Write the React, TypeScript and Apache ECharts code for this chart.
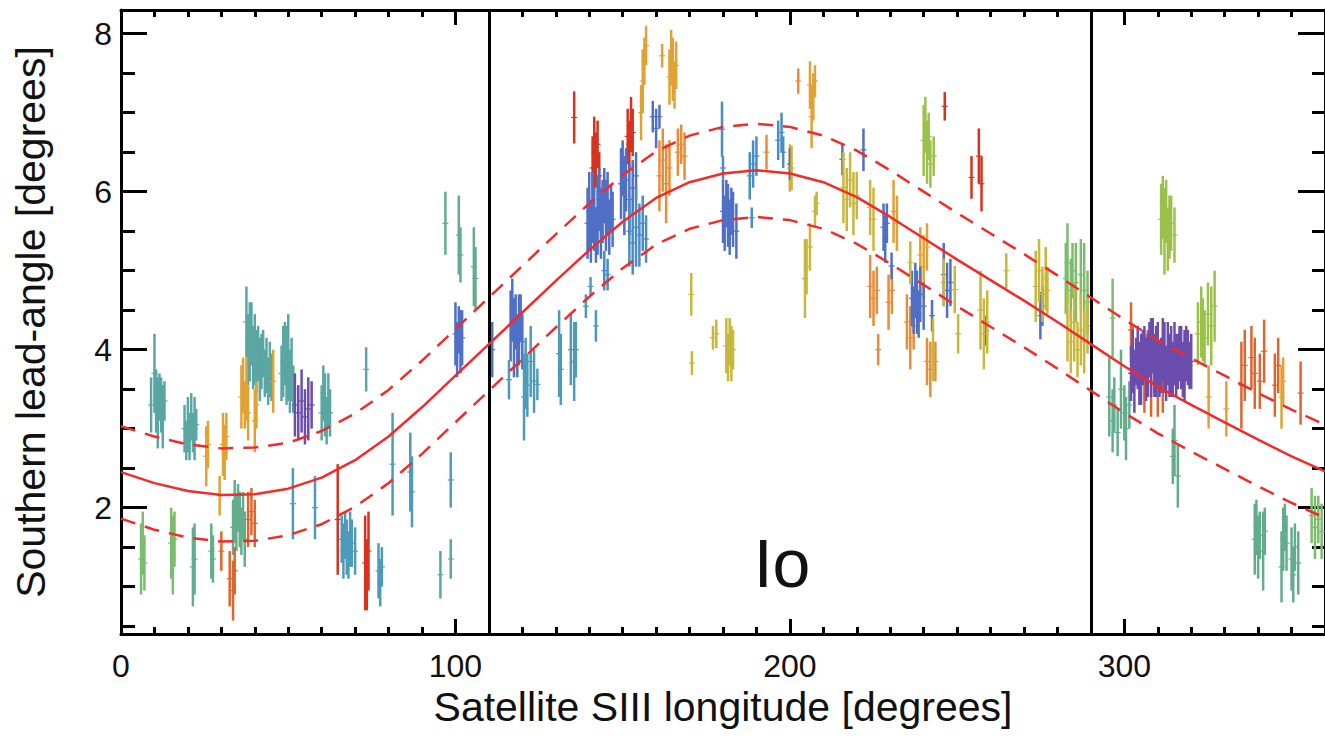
import React, { useEffect, useRef } from 'react';
import * as echarts from 'echarts';

// ---------- axis ticks ----------
const xMajorTicks = [0, 100, 200, 300];
const xMinorTicks = [10, 20, 30, 40, 50, 60, 70, 80, 90, 110, 120, 130, 140, 150, 160, 170, 180, 190, 210, 220, 230, 240, 250, 260, 270, 280, 290, 310, 320, 330, 340, 350];
const yMajorTicks = [2, 4, 6, 8];
const yMinorTicks = [0.5, 1, 1.5, 2.5, 3, 3.5, 4.5, 5, 5.5, 6.5, 7, 7.5];
const ioBoundaries = [110, 290];

// ---------- fitted lead-angle curve ----------
const fitLongitudes = [0, 10, 20, 30, 40, 50, 60, 70, 80, 90, 100, 110, 120, 130, 140, 150, 160, 170, 180, 190, 200, 210, 220, 230, 240, 250, 260, 270, 280, 290, 300, 310, 320, 330, 340, 350, 360];
const fitCentre = [2.45, 2.31, 2.21, 2.16, 2.17, 2.24, 2.38, 2.6, 2.9, 3.27, 3.67, 4.07, 4.47, 4.87, 5.26, 5.62, 5.92, 6.12, 6.23, 6.27, 6.23, 6.12, 5.93, 5.68, 5.41, 5.14, 4.88, 4.62, 4.35, 4.07, 3.79, 3.53, 3.3, 3.08, 2.86, 2.65, 2.46];
const fitUpper = [3.03, 2.9, 2.8, 2.75, 2.76, 2.82, 2.97, 3.19, 3.49, 3.86, 4.26, 4.66, 5.06, 5.46, 5.85, 6.21, 6.51, 6.71, 6.82, 6.86, 6.82, 6.71, 6.52, 6.27, 6.0, 5.73, 5.47, 5.21, 4.94, 4.66, 4.38, 4.12, 3.89, 3.67, 3.45, 3.24, 3.05];
const fitLower = [1.86, 1.72, 1.62, 1.57, 1.58, 1.65, 1.79, 2.01, 2.31, 2.68, 3.08, 3.48, 3.88, 4.28, 4.67, 5.03, 5.33, 5.53, 5.64, 5.68, 5.64, 5.53, 5.34, 5.09, 4.82, 4.55, 4.29, 4.03, 3.76, 3.48, 3.2, 2.94, 2.71, 2.49, 2.27, 2.06, 1.87];

// ---------- measurements: [longitude, lead angle, error] ----------
const teal = [
  [9, 3.3, 0.35], [10, 3.7, 0.5], [10.5, 3.35, 0.4], [11, 3.2, 0.45], [11.5, 3.4, 0.3], [12, 3.3, 0.35], [12.5, 3.15, 0.4], [13, 3.35, 0.25],
  [19, 3.0, 0.3], [19.5, 2.85, 0.25], [20, 3.05, 0.35], [20.5, 2.9, 0.3], [21, 3.15, 0.3], [21.5, 2.95, 0.25], [22, 3.0, 0.4], [22.5, 3.05, 0.2],
  [37.5, 4.35, 0.45], [38, 4.0, 0.45], [38.5, 4.1, 0.5], [39, 4.2, 0.4], [39.5, 3.9, 0.4], [40, 4.0, 0.45], [40.5, 3.85, 0.4], [41, 3.95, 0.35],
  [41.5, 3.75, 0.4], [42, 3.85, 0.35], [42.5, 3.95, 0.3], [43, 3.7, 0.3], [43.5, 3.8, 0.35], [44, 3.6, 0.3], [44.5, 3.75, 0.35], [45, 3.65, 0.3],
  [48, 3.7, 0.35], [48.5, 3.85, 0.45], [49, 3.95, 0.4], [49.5, 3.8, 0.5], [50, 3.9, 0.55], [50.5, 3.6, 0.4], [51, 3.75, 0.4], [51.5, 3.5, 0.3],
  [60, 3.2, 0.35], [60.5, 3.45, 0.35], [61, 3.3, 0.4], [61.5, 3.1, 0.3], [62, 3.35, 0.35], [62.5, 3.2, 0.3],
  [73.3, 3.75, 0.28], [95.5, 1.15, 0.3], [98.6, 1.35, 0.25],
];
const tealGreen = [
  [97, 5.6, 0.4], [101, 5.45, 0.5], [101.5, 5.2, 0.35], [105.5, 5.05, 0.5], [106, 4.9, 0.4],
  [21.5, 1.25, 0.5], [22, 1.35, 0.45], [27, 1.45, 0.35], [27.5, 1.35, 0.3],
  [33.5, 1.75, 0.35], [34, 1.95, 0.4], [34.5, 1.8, 0.35], [35, 2.0, 0.3], [35.5, 1.85, 0.35], [36, 1.7, 0.3], [36.5, 1.9, 0.3], [37, 1.6, 0.35],
  [295.5, 3.4, 0.5], [296.5, 3.1, 0.4], [297, 3.3, 0.35], [298, 2.95, 0.3], [299, 3.5, 0.5], [300, 3.2, 0.35], [300.5, 3.0, 0.4], [301.5, 3.3, 0.3],
  [314.5, 2.65, 0.35], [315, 2.85, 0.45], [316, 2.4, 0.4],
  [339, 1.6, 0.45], [339.5, 1.75, 0.35], [340, 1.5, 0.4], [340.5, 1.65, 0.3], [341.5, 1.45, 0.5], [342, 1.7, 0.3],
  [347, 1.25, 0.45], [347.5, 1.6, 0.4], [348, 1.75, 0.3], [348.5, 1.55, 0.35],
  [350, 1.35, 0.4], [350.5, 1.15, 0.35], [351, 1.5, 0.3], [352, 1.3, 0.4],
];
const green = [
  [6, 1.35, 0.45], [6.5, 1.55, 0.4], [7, 1.3, 0.35], [15, 1.55, 0.45], [15.5, 1.4, 0.5], [16, 1.6, 0.35],
  [282.5, 4.9, 0.45], [283, 5.1, 0.5], [284, 4.75, 0.4], [284.5, 5.0, 0.35], [285.5, 4.85, 0.5], [287, 4.95, 0.45], [288, 4.75, 0.6], [289, 4.6, 0.4],
  [296.5, 4.4, 0.5], [356, 1.9, 0.35], [357, 1.75, 0.4], [358, 1.85, 0.3], [359, 1.7, 0.35],
];
const gold = [
  [25.5, 2.65, 0.38], [26, 2.8, 0.3], [30.5, 2.8, 0.4], [31, 2.7, 0.35], [31.5, 2.9, 0.3], [29.5, 2.15, 0.25],
  [36, 3.4, 0.4], [36.5, 3.55, 0.35], [37, 3.3, 0.3], [37.5, 3.5, 0.4], [38, 3.2, 0.35], [40, 3.1, 0.4], [40.5, 3.3, 0.3], [45.5, 3.6, 0.4],
  [155.5, 7.0, 0.35], [156, 7.4, 0.4], [156.5, 7.65, 0.3], [157, 7.85, 0.25], [161.8, 7.72, 0.15],
  [164, 7.45, 0.35], [164.5, 7.7, 0.35], [165, 7.55, 0.4], [165.5, 7.35, 0.3], [166, 7.6, 0.3],
  [206, 7.35, 0.3], [206.5, 6.95, 0.4], [207, 7.2, 0.3], [207.5, 7.4, 0.2], [200, 6.3, 0.3],
  [239, 5.2, 0.35], [240, 5.05, 0.4], [241, 5.3, 0.3], [231, 5.75, 0.4], [232, 5.6, 0.35],
  [325.2, 3.4, 0.4], [330.5, 3.25, 0.35], [347, 3.4, 0.4], [347.5, 3.6, 0.3],
];
const orange = [
  [161, 6.2, 0.45], [162, 6.4, 0.4], [163, 6.1, 0.5], [164, 6.3, 0.35], [166.5, 6.5, 0.3], [167.5, 6.6, 0.25], [168.5, 6.45, 0.3],
  [193, 6.5, 0.22], [202.5, 7.4, 0.16],
  [224, 4.8, 0.4], [225, 4.65, 0.35], [226, 4.75, 0.3], [226.4, 4.0, 0.2], [229.5, 4.6, 0.35], [230.5, 4.75, 0.3],
  [235, 4.35, 0.35], [236, 4.15, 0.4], [237, 4.3, 0.3], [241, 3.85, 0.3], [242, 3.75, 0.35], [243.5, 3.85, 0.25],
];
const orangeRed = [
  [30, 1.45, 0.25], [32.5, 1.1, 0.35], [33.5, 0.95, 0.38], [34, 1.2, 0.3], [38, 1.85, 0.35], [39, 1.95, 0.3], [40, 1.8, 0.3],
  [302, 4.25, 0.35], [302.5, 3.9, 0.4], [306, 3.7, 0.5], [307, 3.85, 0.4], [308, 3.6, 0.45], [309, 3.75, 0.3], [310, 3.55, 0.4], [311.5, 3.65, 0.45],
  [335, 3.55, 0.55], [336, 3.8, 0.45], [338, 3.9, 0.4], [339, 3.7, 0.45], [340.5, 3.6, 0.35], [341.8, 3.98, 0.4], [345, 3.55, 0.4], [346, 3.8, 0.35], [352.7, 3.45, 0.4],
];
const red = [
  [64.8, 1.85, 0.7], [73, 1.3, 0.6], [73.5, 1.15, 0.45], [74, 1.45, 0.5],
  [135.5, 6.94, 0.33], [141, 6.3, 0.4], [141.5, 6.5, 0.45], [142, 6.4, 0.35], [142.5, 6.6, 0.3], [143, 6.2, 0.3],
  [151.5, 6.7, 0.35], [152, 6.6, 0.3], [152.5, 6.85, 0.35], [153, 6.75, 0.3],
  [246.3, 7.08, 0.18], [254.3, 6.18, 0.27], [256.5, 6.45, 0.35], [257.3, 6.1, 0.35],
];
const purple = [
  [52, 3.3, 0.4], [53, 3.2, 0.35], [54, 3.35, 0.4], [55, 3.15, 0.35], [56, 3.25, 0.4], [57, 3.3, 0.3],
  [302, 3.7, 0.35], [302.5, 3.85, 0.4], [303, 3.6, 0.4], [303.5, 3.85, 0.3], [304, 3.9, 0.4], [304.5, 3.7, 0.4], [305, 3.75, 0.45], [305.5, 3.9, 0.35],
  [306, 3.95, 0.35], [306.5, 3.75, 0.4], [307, 3.8, 0.4], [307.5, 4.0, 0.35], [308, 3.9, 0.5], [308.5, 4.05, 0.35], [309, 3.8, 0.4], [309.5, 3.85, 0.45],
  [310, 3.95, 0.4], [310.5, 3.75, 0.35], [311, 3.8, 0.35], [311.5, 4.0, 0.4], [312, 3.9, 0.45], [312.5, 3.7, 0.35], [313, 3.95, 0.4], [313.5, 3.8, 0.4],
  [314, 3.85, 0.45], [314.5, 3.75, 0.35], [315, 3.95, 0.4], [315.5, 3.8, 0.4], [316, 3.85, 0.35], [316.5, 3.95, 0.35], [317, 3.9, 0.4], [317.5, 3.75, 0.35],
  [318, 3.8, 0.45], [318.5, 3.95, 0.35], [319, 3.9, 0.35], [319.5, 3.8, 0.3], [320, 3.85, 0.35],
];
const blueDark = [
  [100, 4.2, 0.4], [100.5, 4.0, 0.35], [101, 4.25, 0.3], [101.5, 4.1, 0.4], [102, 4.15, 0.35], [111, 4.0, 0.35],
  [116.5, 4.3, 0.45], [117, 4.5, 0.4], [117.5, 4.15, 0.5], [118, 4.35, 0.35], [118.5, 4.05, 0.4], [119, 4.25, 0.45], [119.5, 4.4, 0.3], [120, 4.1, 0.35],
  [139.5, 5.6, 0.45], [140, 5.75, 0.5], [140.5, 5.5, 0.4], [141, 5.8, 0.45], [141.5, 5.65, 0.4], [142, 5.45, 0.35], [142.5, 5.7, 0.5], [143, 5.9, 0.4],
  [143.5, 5.6, 0.45], [144, 5.75, 0.4], [144.5, 5.95, 0.35], [145, 5.7, 0.45], [145.5, 5.85, 0.4], [146, 5.55, 0.35], [146.5, 5.8, 0.3], [147, 5.65, 0.35],
  [149.5, 6.1, 0.45], [150, 6.3, 0.35], [150.5, 5.95, 0.5], [151, 6.15, 0.4], [152, 5.9, 0.45], [153, 6.05, 0.35], [154, 6.2, 0.3],
  [159, 6.95, 0.2], [160, 6.8, 0.25], [161, 6.95, 0.15],
  [180, 5.75, 0.4], [180.5, 5.6, 0.35], [181, 5.85, 0.3], [181.5, 5.7, 0.4], [182, 5.55, 0.35], [182.5, 5.75, 0.3], [183, 5.65, 0.35], [184, 5.5, 0.35],
  [200, 6.35, 0.2], [215.7, 6.41, 0.2], [222, 6.53, 0.27], [228, 5.55, 0.3], [228.5, 5.4, 0.3], [229, 5.6, 0.25], [230.4, 5.06, 0.17],
  [236.5, 4.65, 0.35], [237, 4.5, 0.3], [237.5, 4.75, 0.35], [238, 4.6, 0.4], [238.5, 4.45, 0.3], [239, 4.7, 0.35], [240, 4.55, 0.3], [242.5, 4.43, 0.2],
  [246, 4.95, 0.4], [247, 4.75, 0.35], [248, 4.85, 0.3], [258.7, 4.24, 0.19], [274.9, 4.43, 0.3], [275.5, 4.55, 0.25],
];
const blueMid = [
  [144.5, 5.0, 0.25], [145.5, 4.95, 0.2], [152, 5.5, 0.45], [153, 5.35, 0.4], [154, 5.55, 0.5], [155, 5.45, 0.4], [156, 5.6, 0.35], [157, 5.4, 0.3],
  [179.7, 6.79, 0.35], [180, 6.3, 0.15], [188.6, 5.67, 0.13], [188, 6.2, 0.3], [189, 6.35, 0.3], [190, 6.45, 0.25],
  [196.5, 6.65, 0.25], [197.5, 6.75, 0.25], [198, 6.5, 0.2],
];
const blueTeal = [
  [51.4, 2.05, 0.45], [58, 2.0, 0.4], [66, 1.6, 0.3], [66.5, 1.45, 0.35], [67, 1.65, 0.3], [67.5, 1.5, 0.35], [68, 1.4, 0.3], [68.5, 1.6, 0.35], [69, 1.55, 0.3], [70, 1.45, 0.3],
  [77, 1.2, 0.35], [77.5, 1.05, 0.3], [78, 1.25, 0.25],
  [81.2, 2.55, 0.65], [86.5, 2.45, 0.5], [87, 2.2, 0.45], [98.6, 2.35, 0.35],
  [116, 3.62, 0.25], [120.5, 3.4, 0.55], [121, 3.7, 0.45], [121.5, 3.55, 0.4], [122.5, 3.85, 0.45], [123.5, 3.6, 0.4], [124.5, 3.56, 0.2],
  [131, 3.95, 0.55], [131.5, 3.75, 0.45], [134.5, 4.0, 0.45], [135.5, 3.85, 0.5], [136, 4.0, 0.35], [139, 4.55, 0.15], [140.4, 4.8, 0.12], [142, 4.3, 0.2],
];
const olive = [
  [170.5, 4.7, 0.27], [170.7, 3.83, 0.15], [177, 4.15, 0.15], [178, 4.2, 0.18], [181, 4.05, 0.35], [181.5, 3.9, 0.3], [182, 4.1, 0.3], [182.5, 3.95, 0.35], [183, 4.0, 0.25],
  [200.5, 6.3, 0.28], [204.5, 4.9, 0.5], [205, 5.05, 0.35], [206, 5.3, 0.3], [207.5, 5.75, 0.2], [208, 5.85, 0.15],
  [216, 6.05, 0.45], [217, 5.9, 0.4], [218, 6.15, 0.35], [219, 5.85, 0.4], [220, 5.95, 0.3], [224, 5.8, 0.35], [225, 5.65, 0.4],
  [236, 5.1, 0.27], [242.8, 4.0, 0.4], [246, 4.85, 0.3], [249.3, 4.76, 0.3], [250.3, 4.2, 0.25], [257, 4.5, 0.5], [258, 4.2, 0.45], [259, 4.35, 0.4], [264.7, 5.0, 0.22],
  [273.5, 4.8, 0.45], [274.5, 5.0, 0.4], [275.5, 4.7, 0.35], [276.5, 4.9, 0.4], [277, 4.75, 0.3],
  [283, 4.3, 0.45], [284, 4.1, 0.4], [285, 4.35, 0.5], [286, 4.0, 0.35], [287, 4.25, 0.45], [288, 4.1, 0.4], [289, 4.3, 0.35],
];
const yellowGreen = [
  [240, 6.65, 0.45], [240.5, 6.85, 0.35], [241, 6.5, 0.4], [241.5, 6.7, 0.3], [242, 6.35, 0.3], [243, 6.45, 0.25],
  [311, 5.65, 0.45], [311.5, 5.8, 0.4], [312, 5.5, 0.55], [312.5, 5.75, 0.4], [313, 5.4, 0.4], [313.5, 5.55, 0.4], [314, 5.6, 0.35], [315, 5.45, 0.35],
  [322, 4.2, 0.4], [323, 4.35, 0.45], [323.5, 4.25, 0.4], [324, 4.15, 0.35], [325, 4.45, 0.4], [326, 4.3, 0.5], [327, 4.55, 0.45],
];

const groups = [
  { name: 'teal', color: '#5aa6a3', data: teal },
  { name: 'tealGreen', color: '#62ad8c', data: tealGreen },
  { name: 'green', color: '#7cbd6d', data: green },
  { name: 'gold', color: '#e2a233', data: gold },
  { name: 'orange', color: '#e98c37', data: orange },
  { name: 'orangeRed', color: '#e0652c', data: orangeRed },
  { name: 'red', color: '#d8321f', data: red },
  { name: 'purple', color: '#6a4dad', data: purple },
  { name: 'blueDark', color: '#4f70c5', data: blueDark },
  { name: 'blueMid', color: '#4a8cc6', data: blueMid },
  { name: 'blueTeal', color: '#4d9bb9', data: blueTeal },
  { name: 'olive', color: '#c7b73a', data: olive },
  { name: 'yellowGreen', color: '#9cc14b', data: yellowGreen },
];

const FONT = '"Liberation Sans", Arial, Helvetica, sans-serif';
const RED = '#f42a2a';
const INK = '#111';

function buildOption(): any {
  const lineStyleBlack = { color: '#000', width: 3 };
  const xBase = { type: 'value', min: 0, max: 360, splitLine: { show: false } };
  const yBase = { type: 'value', min: 0.4, max: 8.3, splitLine: { show: false } };
  const hidden = { show: false };

  const xAxis = [
    {
      ...xBase, position: 'bottom',
      axisLine: { show: true, onZero: false, lineStyle: lineStyleBlack },
      axisTick: { show: true, inside: true, length: 15, lineStyle: lineStyleBlack, customValues: xMajorTicks },
      axisLabel: { show: true, customValues: xMajorTicks, margin: 16, fontSize: 32, color: INK, fontFamily: FONT },
      name: 'Satellite SIII longitude [degrees]', nameLocation: 'middle', nameGap: 51,
      nameTextStyle: { fontSize: 41, color: INK, fontFamily: FONT },
    },
    {
      ...xBase, position: 'bottom', axisLine: { show: false, onZero: false },
      axisTick: { show: true, inside: true, length: 7, lineStyle: lineStyleBlack, customValues: xMinorTicks },
      axisLabel: hidden,
    },
    {
      ...xBase, position: 'top',
      axisLine: { show: true, onZero: false, lineStyle: lineStyleBlack },
      axisTick: { show: true, inside: true, length: 15, lineStyle: lineStyleBlack, customValues: xMajorTicks },
      axisLabel: hidden,
    },
    {
      ...xBase, position: 'top', axisLine: { show: false, onZero: false },
      axisTick: { show: true, inside: true, length: 7, lineStyle: lineStyleBlack, customValues: xMinorTicks },
      axisLabel: hidden,
    },
  ];
  const yAxis = [
    {
      ...yBase, position: 'left',
      axisLine: { show: true, onZero: false, lineStyle: lineStyleBlack },
      axisTick: { show: true, inside: true, length: 26, lineStyle: lineStyleBlack, customValues: yMajorTicks },
      axisLabel: { show: true, customValues: yMajorTicks, margin: 9, fontSize: 32, color: INK, fontFamily: FONT },
      name: 'Southern lead-angle [degrees]', nameLocation: 'middle', nameGap: 70,
      nameTextStyle: { fontSize: 41, color: INK, fontFamily: FONT },
    },
    {
      ...yBase, position: 'left', axisLine: { show: false, onZero: false },
      axisTick: { show: true, inside: true, length: 14, lineStyle: lineStyleBlack, customValues: yMinorTicks },
      axisLabel: hidden,
    },
    {
      ...yBase, position: 'right',
      axisLine: { show: true, onZero: false, lineStyle: lineStyleBlack },
      axisTick: { show: true, inside: true, length: 27, lineStyle: lineStyleBlack, customValues: yMajorTicks },
      axisLabel: hidden,
    },
    {
      ...yBase, position: 'right', axisLine: { show: false, onZero: false },
      axisTick: { show: true, inside: true, length: 13, lineStyle: lineStyleBlack, customValues: yMinorTicks },
      axisLabel: hidden,
    },
  ];

  const errorSeries = groups.map((g) => ({
    type: 'custom',
    name: g.name,
    xAxisIndex: 0,
    yAxisIndex: 0,
    clip: true,
    z: 2,
    dimensions: ['lon', 'lead', 'err'],
    encode: { x: 0, y: 1 },
    data: g.data,
    renderItem: (_params: any, api: any) => {
      const x = api.value(0) as number;
      const y = api.value(1) as number;
      const e = api.value(2) as number;
      const top = api.coord([x, y + e]);
      const bot = api.coord([x, y - e]);
      const mid = api.coord([x, y]);
      return {
        type: 'group',
        children: [
          { type: 'line', shape: { x1: top[0], y1: top[1], x2: bot[0], y2: bot[1] }, style: { stroke: g.color, lineWidth: 2.5 } },
          { type: 'line', shape: { x1: mid[0] - 3, y1: mid[1], x2: mid[0] + 3, y2: mid[1] }, style: { stroke: g.color, lineWidth: 1.2 } },
        ],
      };
    },
  }));

  const toPairs = (vals: number[]) => fitLongitudes.map((lon, i) => [lon, vals[i]]);
  const curveCommon = { symbol: 'none', smooth: false, z: 5 };

  const lineSeries = [
    {
      ...curveCommon, type: 'line', name: 'fit', data: toPairs(fitCentre),
      lineStyle: { color: RED, width: 2.5, join: 'round' },
      markLine: {
        silent: true, symbol: ['none', 'none'], label: { show: false },
        lineStyle: { color: '#000', width: 3, type: 'solid' },
        data: ioBoundaries.map((v) => ({ xAxis: v })),
      },
    },
    {
      ...curveCommon, type: 'line', name: 'upper', data: toPairs(fitUpper),
      lineStyle: { color: RED, width: 2.5, type: [15, 10] },
    },
    {
      ...curveCommon, type: 'line', name: 'lower', data: toPairs(fitLower),
      lineStyle: { color: RED, width: 2.5, type: [15, 10] },
    },
  ];

  return {
    animation: false,
    backgroundColor: '#fff',
    grid: { left: 121, top: 10, width: 1207, height: 624, containLabel: false },
    xAxis,
    yAxis,
    series: [...errorSeries, ...lineSeries],
    graphic: [
      {
        type: 'text', x: 782, y: 563, z: 10,
        style: { text: 'Io', fontSize: 68, fill: INK, fontFamily: FONT, align: 'center', verticalAlign: 'middle' },
      },
    ],
  };
}

export default function App() {
  const ref = useRef<HTMLDivElement>(null);
  useEffect(() => {
    if (!ref.current) return;
    const chart = echarts.init(ref.current, undefined, { renderer: 'svg' });
    chart.setOption(buildOption());
    return () => chart.dispose();
  }, []);
  return (
    <div
      ref={ref}
      style={{ position: 'absolute', left: 0, top: 0, width: 1325, height: 739, background: '#fff' }}
    />
  );
}
